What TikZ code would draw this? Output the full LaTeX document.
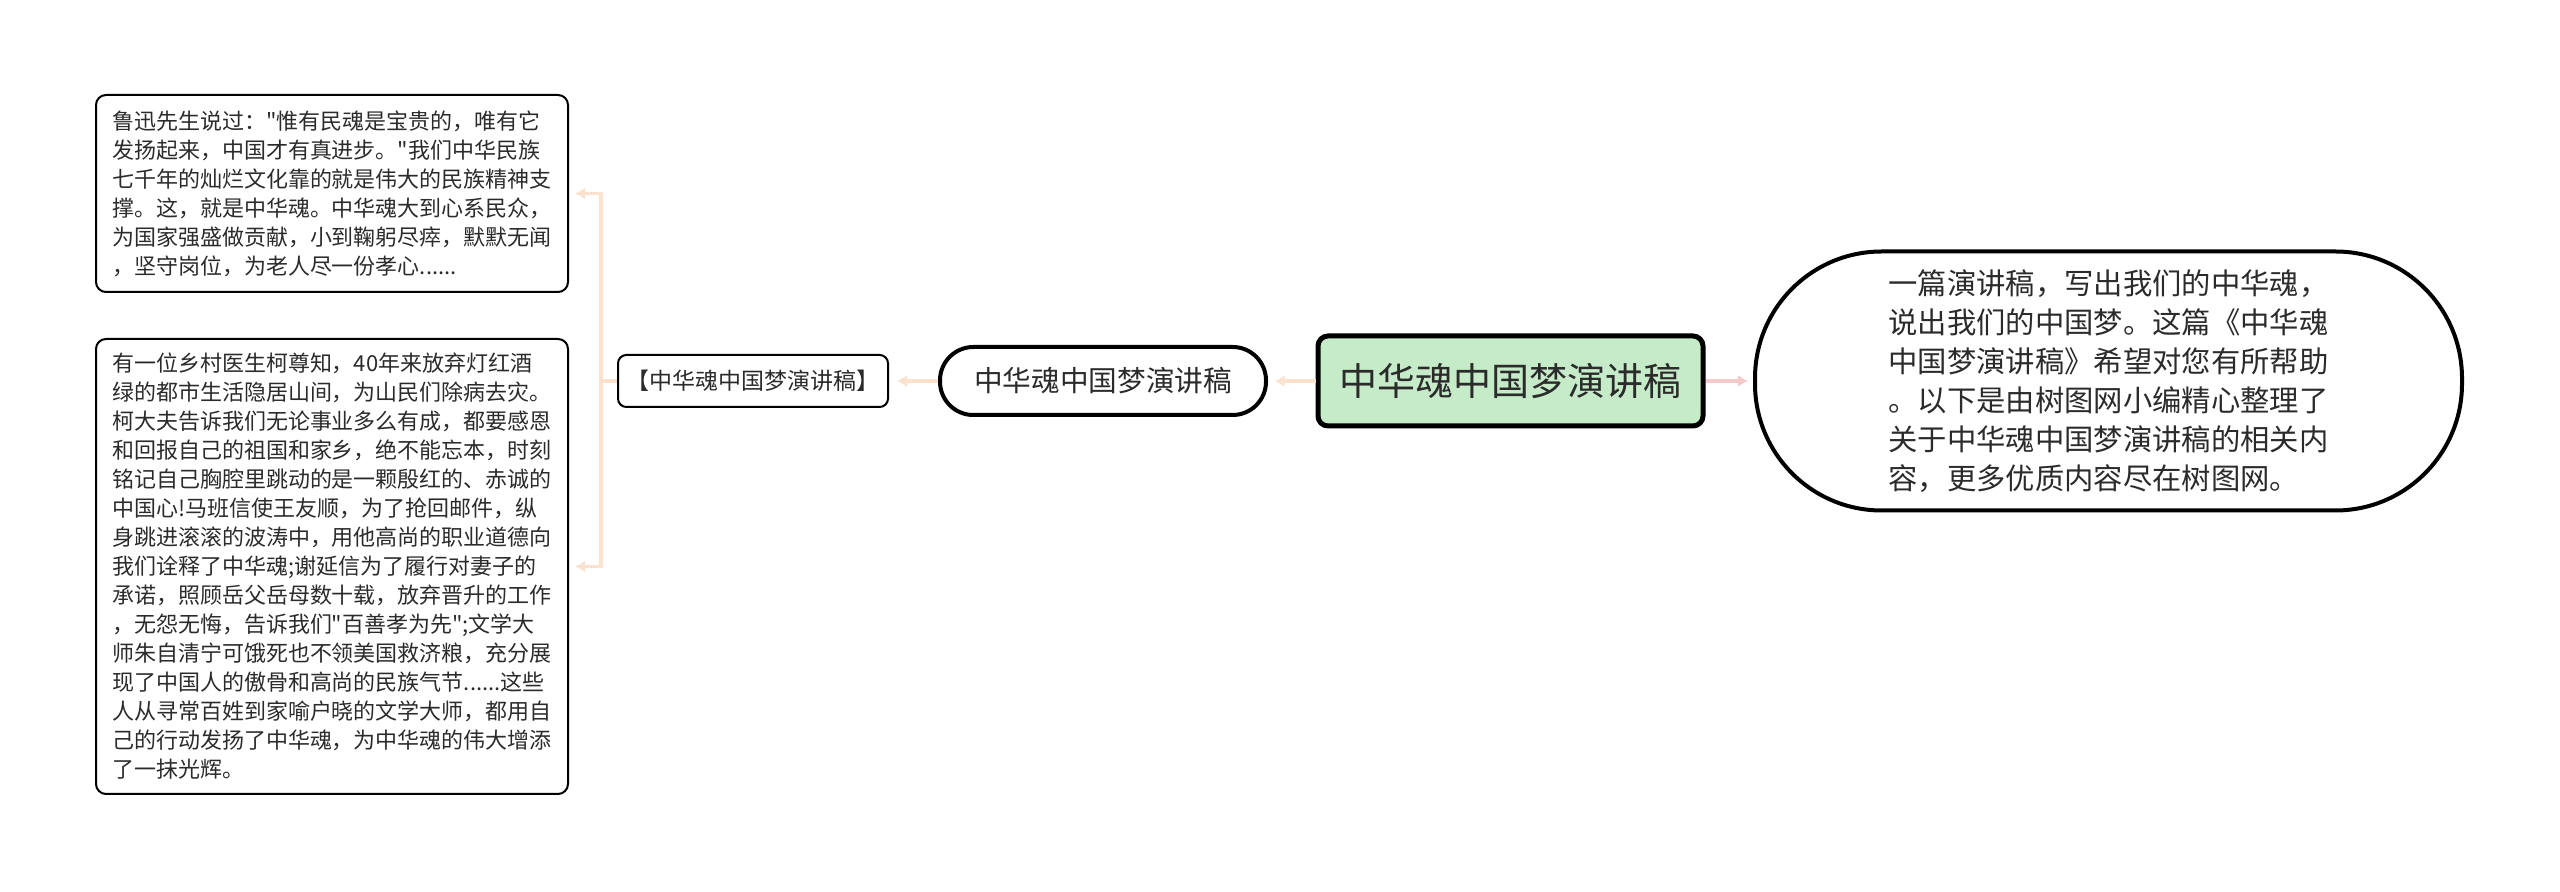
\documentclass[tikz,border=0pt]{standalone}
\usepackage{fontspec}
\setmainfont{Noto Sans CJK SC}
\usetikzlibrary{arrows.meta}
\definecolor{linkpeach}{HTML}{FBE2CE}
\definecolor{linkpink}{HTML}{F5C8CA}
\definecolor{rootgreen}{HTML}{C6EBC9}
\definecolor{inktext}{HTML}{2B2B2B}

\begin{document}
\begin{tikzpicture}[x=.3pt,y=-.3pt,>={Latex[length=3pt,width=3.6pt]},
  every node/.style={text=inktext,inner sep=0pt},
  leaf/.style={draw,line width=.6pt,rounded corners=3pt,minimum width=141.6pt,
    align=left,font=\fontsize{6.6pt}{8.7pt}\selectfont},
  link/.style={line width=1pt,draw=linkpeach,-{Latex[length=3pt,width=3.6pt]}}]
  \useasboundingbox (0,0) rectangle (2560,892);
  % left leaves
  \node[leaf,minimum height=59.1pt] (story1) at (332,193.5) {鲁迅先生说过：\textquotedbl{}惟有民魂是宝贵的，唯有它\\
    发扬起来，中国才有真进步。\textquotedbl{}我们中华民族\\
    七千年的灿烂文化靠的就是伟大的民族精神支\\
    撑。这，就是中华魂。中华魂大到心系民众，\\
    为国家强盛做贡献，小到鞠躬尽瘁，默默无闻\\
    ，坚守岗位，为老人尽一份孝心......};
  \node[leaf,minimum height=136.5pt] (story2) at (332,566.5) {有一位乡村医生柯尊知，40年来放弃灯红酒\\
    绿的都市生活隐居山间，为山民们除病去灾。\\
    柯大夫告诉我们无论事业多么有成，都要感恩\\
    和回报自己的祖国和家乡，绝不能忘本，时刻\\
    铭记自己胸腔里跳动的是一颗殷红的、赤诚的\\
    中国心!马班信使王友顺，为了抢回邮件，纵\\
    身跳进滚滚的波涛中，用他高尚的职业道德向\\
    我们诠释了中华魂;谢延信为了履行对妻子的\\
    承诺，照顾岳父岳母数十载，放弃晋升的工作\\
    ，无怨无悔，告诉我们\textquotedbl{}百善孝为先\textquotedbl{};文学大\\
    师朱自清宁可饿死也不领美国救济粮，充分展\\
    现了中国人的傲骨和高尚的民族气节......这些\\
    人从寻常百姓到家喻户晓的文学大师，都用自\\
    己的行动发扬了中华魂，为中华魂的伟大增添\\
    了一抹光辉。};
  % middle chain
  \node[draw,line width=.6pt,rounded corners=2.5pt,minimum width=81pt,minimum height=15.6pt,
    font=\fontsize{6.9pt}{8pt}\selectfont] (topic) at (753,381) {【中华魂中国梦演讲稿】};
  \node[draw,line width=1.2pt,rounded corners=10pt,minimum width=97.8pt,minimum height=20.4pt,
    font=\fontsize{8.6pt}{10pt}\selectfont] (title) at (1103,381) {中华魂中国梦演讲稿};
  \node[draw,fill=rootgreen,line width=1.5pt,rounded corners=3pt,minimum width=115.5pt,
    minimum height=27pt,font=\fontsize{11.4pt}{13pt}\selectfont] (main) at (1510.5,381) {中华魂中国梦演讲稿};
  \node[draw,line width=1.2pt,rounded corners=38pt,minimum width=212.1pt,minimum height=77.7pt,
    align=left,font=\fontsize{8.8pt}{11.7pt}\selectfont] (intro) at (2108.5,381) {一篇演讲稿，写出我们的中华魂，\\
    说出我们的中国梦。这篇《中华魂\\
    中国梦演讲稿》希望对您有所帮助\\
    。以下是由树图网小编精心整理了\\
    关于中华魂中国梦演讲稿的相关内\\
    容，更多优质内容尽在树图网。};
  \coordinate (fork) at (601,381);
  % connectors
  \draw[link,shorten >=2pt] (main.west) -- (title.east);
  \draw[link,shorten >=2.4pt] (title.west) -- (topic.east);
  \draw[link,-] (topic.west) -- (fork);
  \draw[link,shorten >=1.8pt] (fork) |- (story1.east);
  \draw[link,shorten >=1.8pt] (fork) |- (story2.east);
  \draw[link,draw=linkpink,shorten >=1.5pt] (main.east) -- (intro.west);
\end{tikzpicture}
\end{document}
